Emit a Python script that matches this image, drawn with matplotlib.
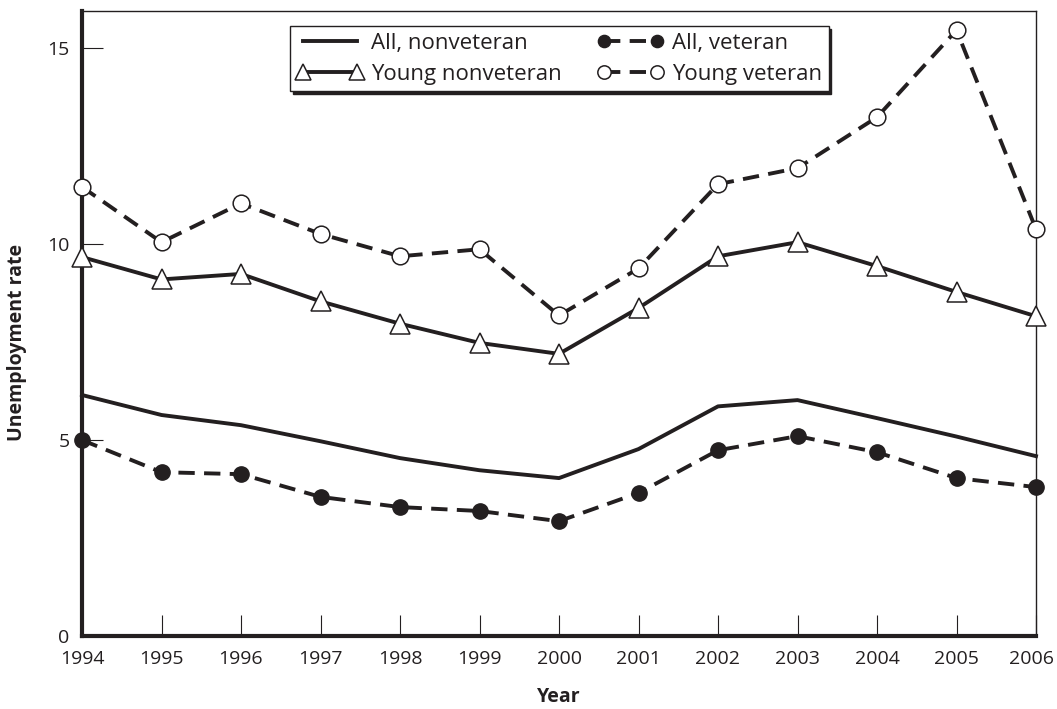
import matplotlib.pyplot as plt
from matplotlib.transforms import ScaledTranslation

years = list(range(1994, 2007))
all_nonvet = [6.15, 5.64, 5.38, 4.97, 4.54, 4.23, 4.03, 4.77, 5.86, 6.02, 5.56, 5.09, 4.59]
all_vet = [5.0, 4.18, 4.13, 3.55, 3.29, 3.19, 2.93, 3.65, 4.74, 5.10, 4.69, 4.03, 3.80]
young_nonvet = [9.67, 9.10, 9.24, 8.54, 7.97, 7.48, 7.20, 8.37, 9.69, 10.05, 9.44, 8.78, 8.16]
young_vet = [11.46, 10.05, 11.04, 10.26, 9.69, 9.87, 8.18, 9.38, 11.53, 11.94, 13.24, 15.46, 10.38]

y_ticks = [0, 5, 10, 15]

plt.rcParams['font.family'] = ['Open Sans', 'DejaVu Sans']

fig = plt.figure(figsize=(10.57, 7.09), dpi=100)
ax = fig.add_axes([82 / 1057, 1 - 636 / 709, (1036 - 82) / 1057, (636 - 11) / 709])

ink = '#231f20'
lw = 2.8
dash = (4.2, 2.4)

ax.plot(years, all_nonvet, color=ink, lw=lw, label='All, nonveteran', zorder=3, clip_on=False)
ax.plot(years, all_vet, color=ink, lw=lw, dashes=dash, marker='o', ms=11,
        mfc=ink, mec=ink, label='All, veteran', zorder=5, clip_on=False)
ax.plot(years, young_nonvet, color=ink, lw=lw, marker='^', ms=14,
        mfc='white', mec=ink, mew=1.1, label='Young nonveteran', zorder=5, clip_on=False)
ax.plot(years, young_vet, color=ink, lw=lw, dashes=dash, marker='o', ms=12,
        mfc='white', mec=ink, mew=1.1, label='Young veteran', zorder=5, clip_on=False)

ax.set_xlim(1994, 2006)
ax.set_ylim(0, 15.95)
ax.set_xticks(years)
ax.set_yticks(y_ticks)
ax.tick_params(direction='in', length=15, width=0.8, color=ink,
               labelsize=14, labelcolor=ink)
ax.tick_params(axis='x', pad=10)
ax.tick_params(axis='y', pad=9)

# keep the last year label inside the figure
last = ax.get_xticklabels()[-1]
last.set_transform(last.get_transform() + ScaledTranslation(-4 / 100, 0, fig.dpi_scale_trans))

for side in ['left', 'bottom']:
    ax.spines[side].set_linewidth(3)
    ax.spines[side].set_color(ink)
for side in ['top', 'right']:
    ax.spines[side].set_linewidth(1)
    ax.spines[side].set_color(ink)
for s in ax.spines.values():
    s.set_zorder(4)

ax.set_xlabel('Year', fontsize=14, fontweight='bold', color=ink, labelpad=14)
fig.text(17 / 1057, 1 - 342 / 709, 'Unemployment rate', rotation=90, ha='center', va='center',
         fontsize=14, fontweight='bold', color=ink)

handles, labels = ax.get_legend_handles_labels()
order = [0, 2, 1, 3]
leg = ax.legend([handles[i] for i in order], [labels[i] for i in order],
                ncol=2, loc='upper left', bbox_to_anchor=(0.218, 0.976), borderaxespad=0,
                numpoints=2, markerscale=0.8, handlelength=3.0, handletextpad=0.35,
                columnspacing=1.6, fontsize=16, frameon=True, fancybox=False,
                borderpad=0.3, labelspacing=0.45,
                shadow={'color': ink, 'alpha': 1}, framealpha=1)
leg.get_frame().set_edgecolor(ink)
leg.get_frame().set_linewidth(1)
leg.set_zorder(6)
for t in leg.get_texts():
    t.set_color(ink)

plt.savefig('out.png', dpi=100)
plt.close()
